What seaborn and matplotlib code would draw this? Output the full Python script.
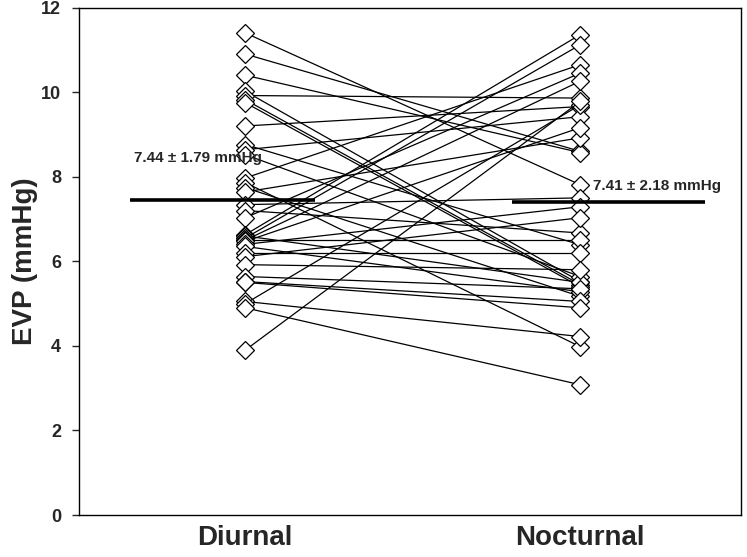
import numpy as np
import pandas as pd
import seaborn as sns
import matplotlib.pyplot as plt

# paired EVP readings per eye
diurnal = [11.4, 10.9, 10.4, 10.02, 9.92, 9.82, 9.75, 9.2, 8.76, 8.64, 8.52,
           7.97, 7.86, 7.74, 7.64, 7.34, 7.2, 7.03, 6.63, 6.6, 6.55, 6.51,
           6.5, 6.47, 6.4, 6.35, 6.2, 6.11, 5.92, 5.64, 5.52, 5.5, 5.05,
           5.0, 4.9, 3.9]
nocturnal = [7.81, 8.6, 8.57, 5.52, 9.86, 5.45, 5.4, 9.66, 6.39, 9.42, 5.64,
             10.65, 3.98, 5.17, 8.92, 7.5, 6.67, 10.45, 11.36, 5.5, 11.12, 6.51,
             10.26, 9.16, 7.29, 5.28, 6.2, 7.03, 5.8, 5.35, 5.05, 4.9, 4.22,
             9.7, 3.08, 9.78]
groups = ['Diurnal', 'Nocturnal']
means = [7.44, 7.41]
sds = [1.79, 2.18]

df = pd.DataFrame({
    'eye': list(range(len(diurnal))) * 2,
    'time': ['Diurnal'] * len(diurnal) + ['Nocturnal'] * len(nocturnal),
    'EVP': diurnal + nocturnal,
})

sns.set_style('white')
plt.rcParams['font.family'] = ['Liberation Sans', 'DejaVu Sans']

fig = plt.figure(figsize=(7.47, 5.57), dpi=100)
ax = fig.add_axes([0.106, 0.0754, 0.886, 0.911])

sns.lineplot(data=df, x='time', y='EVP', units='eye', estimator=None,
             color='black', linewidth=0.9, marker='D', markersize=9,
             markerfacecolor='white', markeredgecolor='black',
             markeredgewidth=0.9, ax=ax)

# mean bars + labels
bar_span = [(-0.343, 0.209), (0.797, 1.373)]
for i, m in enumerate(means):
    ax.plot(bar_span[i], [m, m], color='black', linewidth=2.6, zorder=5,
            solid_capstyle='butt')
txt = [f'{m:.2f} \u00b1 {s:.2f} mmHg' for m, s in zip(means, sds)]
ax.text(0.05, 8.45, txt[0], ha='right', va='center',
        fontsize=11, fontweight='bold', zorder=6)
ax.text(1.039, 7.79, txt[1], ha='left', va='center',
        fontsize=11, fontweight='bold', zorder=6)

ax.set_xlim(-0.496, 1.48)
ax.set_ylim(0, 12)
ax.set_yticks(range(0, 13, 2))
ax.set_xticks([0, 1])
ax.set_xticklabels(groups, fontsize=20, fontweight='bold')
ax.tick_params(axis='x', length=0, pad=7)
ax.tick_params(axis='y', left=True, length=5, width=1, direction='out',
               labelsize=13, pad=8)
for lab in ax.get_yticklabels():
    lab.set_fontweight('bold')
ax.set_xlabel('')
ax.set_ylabel('EVP (mmHg)', fontsize=20, fontweight='bold', labelpad=2)
for sp in ax.spines.values():
    sp.set_visible(True)
    sp.set_color('black')
    sp.set_linewidth(1)

fig.savefig('out.png', dpi=100)
